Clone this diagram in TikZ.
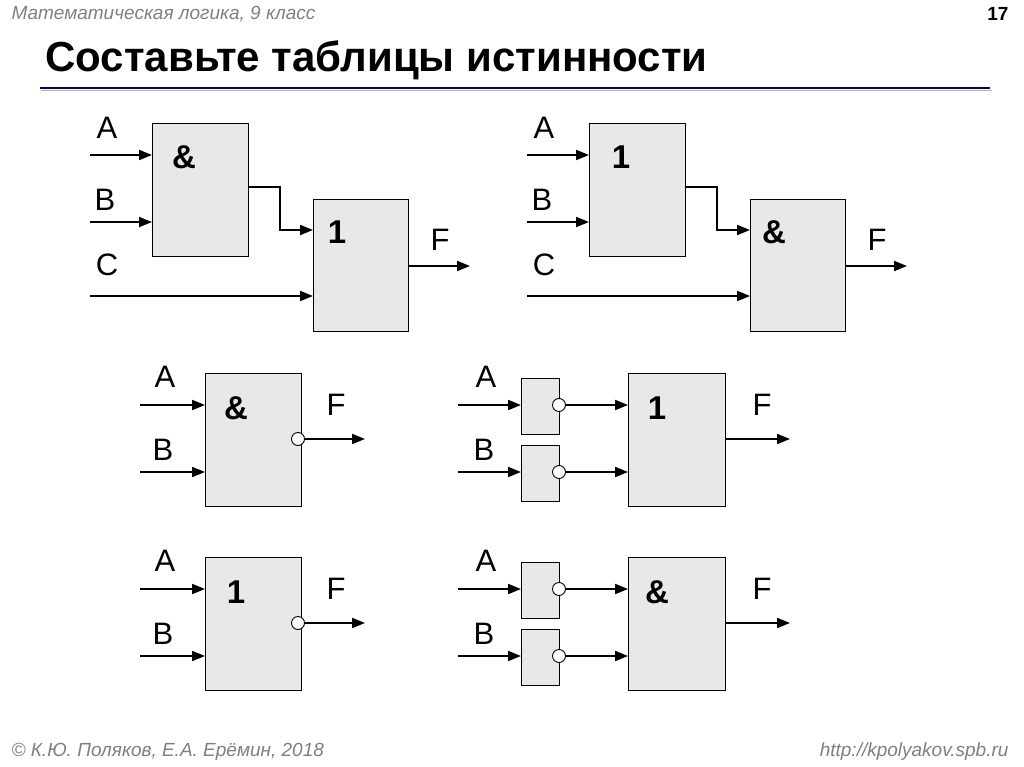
\documentclass[tikz,border=0pt]{standalone}
\usepackage{fontspec}
\setmainfont{Liberation Sans}
\usetikzlibrary{arrows.meta}
\begin{document}
\begin{tikzpicture}[x=1pt,y=-1pt,
  gate/.style={draw,fill=gray!18,line width=0.9pt},
  wire/.style={line width=2pt,-{Triangle[length=13pt,width=10pt]}},
  lbl/.style={font=\fontsize{31}{31}\selectfont,inner sep=0},
  sym/.style={font=\fontsize{33}{33}\selectfont\bfseries,inner sep=0},
  bub/.style={circle,draw,fill=white,minimum size=13pt,inner sep=0,line width=0.9pt}]
\useasboundingbox (0,0) rectangle (1024,767);
\node[anchor=west,text=gray,font=\fontsize{19}{19}\selectfont\itshape] (hdr) at (8,14) {Математическая логика, 9 класс};
\node[anchor=east,font=\fontsize{19}{19}\selectfont\bfseries] (pg) at (1012,14) {17};
\node[anchor=west,font=\fontsize{42}{42}\selectfont\bfseries] (ttl) at (42,60) {Составьте таблицы истинности};
\draw[gray!60,line width=1pt] (41,91) -- (992,91);
\draw[blue!50!black,line width=2.5pt] (40,88) -- (990,88);
\node[anchor=west,text=gray,font=\fontsize{19}{19}\selectfont\itshape] (ft1) at (8,752) {© К.Ю. Поляков, Е.А. Ерёмин, 2018};
\node[anchor=east,text=gray,font=\fontsize{19}{19}\selectfont\itshape] (ft2) at (1012,752) {http://kpolyakov.spb.ru};

\foreach \dx/\sa/\sb [count=\i] in {0/\&/1,437/1/\&}{
  \begin{scope}[xshift=\dx pt]
  \draw[gate] (152,123) rectangle (248,256);
  \draw[gate] (313,199) rectangle (408,331);
  \node[sym] at (184,157) {\sa};
  \node[sym] at (337,232) {\sb};
  \draw[wire] (90,155) -- (152,155);
  \draw[wire] (90,222) -- (152,222);
  \draw[wire] (90,296) -- (313,296);
  \draw[wire] (248,187) -- (280,187) -- (280,230) -- (313,230);
  \draw[wire] (408,266) -- (470,266);
  \node[lbl] at (107,128) {A};
  \node[lbl] at (105,200) {B};
  \node[lbl] at (107,265) {C};
  \node[lbl] at (440,240) {F};
  \end{scope}}

\foreach \dy/\s in {0/\&,184/1}{
  \begin{scope}[yshift=-\dy pt]
  \draw[gate] (205,373) rectangle (301,506);
  \node[sym] at (236,408) {\s};
  \draw[wire] (140,405) -- (205,405);
  \draw[wire] (140,472) -- (205,472);
  \draw[wire] (305,439) -- (365,439);
  \node[bub] at (298,439) {};
  \node[lbl] at (165,377) {A};
  \node[lbl] at (163,450) {B};
  \node[lbl] at (336,405) {F};
  \end{scope}}

\foreach \dy/\s in {0/1,184/\&}{
  \begin{scope}[yshift=-\dy pt]
  \draw[gate] (521,378) rectangle (559,434);
  \draw[gate] (521,445) rectangle (559,501);
  \draw[gate] (628,373) rectangle (725,506);
  \node[sym] at (657,408) {\s};
  \draw[wire] (458,405) -- (521,405);
  \draw[wire] (458,472) -- (521,472);
  \draw[wire] (565,405) -- (628,405);
  \draw[wire] (565,472) -- (628,472);
  \node[bub] at (559,405) {};
  \node[bub] at (559,472) {};
  \draw[wire] (725,439) -- (790,439);
  \node[lbl] at (486,377) {A};
  \node[lbl] at (484,450) {B};
  \node[lbl] at (762,405) {F};
  \end{scope}}
\end{tikzpicture}
\end{document}
